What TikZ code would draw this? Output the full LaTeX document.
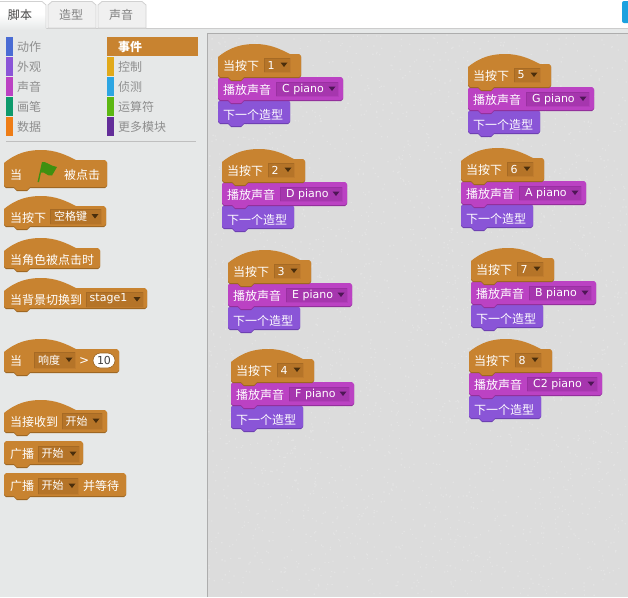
\documentclass[tikz,border=0pt]{standalone}
\usepackage{fontspec}
\setmainfont{Noto Sans CJK SC}
\newfontfamily\latinf{DejaVu Sans}
\usetikzlibrary{calc}
\definecolor{evt}{HTML}{C88330}
\definecolor{evtd}{HTML}{9A6420}
\definecolor{evtin}{HTML}{B57428}
\definecolor{evtdin}{HTML}{A66A24}
\definecolor{evtl}{HTML}{C07C2E}
\definecolor{evttri}{HTML}{4A2E0C}
\definecolor{snd}{HTML}{BB42C3}
\definecolor{sndd}{HTML}{8E2E96}
\definecolor{sndin}{HTML}{A636AE}
\definecolor{snddin}{HTML}{9A30A2}
\definecolor{sndl}{HTML}{B23DBA}
\definecolor{sndtri}{HTML}{4E1656}
\definecolor{lks}{HTML}{8A55D7}
\definecolor{lksd}{HTML}{6A3DAE}
\definecolor{palbg}{HTML}{E6E8E8}
\definecolor{scrbg}{HTML}{DCDCDC}
\definecolor{cattxt}{HTML}{8E8E8E}
\definecolor{bluebar}{HTML}{1BA1DF}
\definecolor{flaggreen}{HTML}{3F9010}
\newcount\tcnt
\tikzset{
  x=1pt,y=-1pt,
  autoname/.code={\global\advance\tcnt by 1 \tikzset{name=t\the\tcnt}},
  blocktxt/.style={autoname,anchor=west,inner sep=0pt,text=white,font=\fontsize{12}{12}\selectfont},
  ddtxt/.style={autoname,anchor=center,inner sep=0pt,text=white,font=\fontsize{11}{11}\selectfont},
  lat/.style={font=\latinf\fontsize{11}{11}\selectfont},
  cat/.style={autoname,anchor=west,inner sep=0pt,text=cattxt,font=\fontsize{12}{12}\selectfont},
  tabtxt/.style={autoname,anchor=center,inner sep=0pt,font=\fontsize{12}{12}\selectfont},
  tabback/.style={fill=black!6,draw=black!18,line width=.8pt},
  rule/.style={draw=black!25,line width=.8pt},
}
% stack block path: #1 x, #2 top, #3 width, #4 height
\newcommand{\stackpath}[4]{
  (#1,#2+2) -- (#1+2,#2) -- (#1+#3-2,#2) -- (#1+#3,#2+2) -- (#1+#3,#2+#4-2) -- (#1+#3-2,#2+#4)
  -- (#1+26,#2+#4) -- (#1+23,#2+#4+3) -- (#1+13,#2+#4+3) -- (#1+10,#2+#4) -- (#1+2,#2+#4) -- (#1,#2+#4-2) -- cycle}
% hat block path: #1 x, #2 top, #3 width, #4 bottom
\newcommand{\hatpath}[4]{
  (#1,#2+13) .. controls (#1+12,#2+3) and (#1+24,#2) .. (#1+37,#2)
  .. controls (#1+52,#2) and (#1+62,#2+5) .. (#1+72,#2+10)
  -- (#1+#3-2,#2+10) -- (#1+#3,#2+12) -- (#1+#3,#4-2) -- (#1+#3-2,#4)
  -- (#1+26,#4) -- (#1+23,#4+3) -- (#1+13,#4+3) -- (#1+10,#4) -- (#1+2,#4) -- (#1,#4-2) -- cycle}
\newcommand{\stackblock}[6]{% x top w h fill dark
  \fill[#6] \stackpath{#1}{#2+1}{#3}{#4};
  \fill[#5] \stackpath{#1}{#2}{#3}{#4};}
\newcommand{\hatblock}[4]{% x top w bottom
  \fill[evtd] \hatpath{#1}{#2+1}{#3}{#4+1};
  \fill[evt] \hatpath{#1}{#2}{#3}{#4};}
% dropdown: x y w h fill dark light triangle
\newcommand{\dropdown}[8]{%
  \fill[#5] (#1,#2) rectangle (#1+#3,#2+#4);
  \draw[#6,line width=.8pt] (#1,#2+#4) -- (#1,#2) -- (#1+#3,#2);
  \draw[#7,line width=.8pt] (#1,#2+#4) -- (#1+#3,#2+#4) -- (#1+#3,#2);
  \fill[#8] (#1+#3-9.5,#2+#4/2-2.5) -- (#1+#3-2.5,#2+#4/2-2.5) -- (#1+#3-6,#2+#4/2+2) -- cycle;
}
\newcommand{\evtdd}[4]{\dropdown{#1}{#2}{#3}{#4}{evtin}{evtdin}{evtl}{evttri}}
% script: x top number sound-name play-width
\newcommand{\script}[5]{%
  \stackblock{#1}{#2+56}{72}{23}{lks}{lksd}
  \stackblock{#1}{#2+33}{#5}{23}{snd}{sndd}
  \hatblock{#1}{#2}{83}{#2+33}
  \node[blocktxt] at (#1+5,#2+21.5) {当按下};
  \evtdd{#1+46}{#2+14}{26}{14}
  \node[ddtxt,lat] at (#1+53,#2+21) {#3};
  \dropdown{#1+58}{#2+38}{#5-63}{14}{sndin}{snddin}{sndl}{sndtri}
  \node[blocktxt] at (#1+5,#2+46) {播放声音};
  \node[ddtxt,anchor=west,lat] at (#1+64,#2+45.5) {#4};
  \node[blocktxt] at (#1+5,#2+71) {下一个造型};
}
\begin{document}
\begin{tikzpicture}
\useasboundingbox (0,0) rectangle (628,597);
\fill[white] (0,0) rectangle (628,597);
% panels
\fill[palbg] (0,29) rectangle (628,597);
\fill[scrbg] (208,34) rectangle (628,597);
\pgfmathsetseed{4711}
\fill[white,opacity=.22] foreach \i in {1,...,2800} {
  (208+rnd*418,34+rnd*561) rectangle +(1.3,1.3)};
\draw[black!32,line width=1pt] (207.5,33) -- (207.5,597);
\draw[black!32,line width=1pt] (207.5,33.5) -- (628,33.5);
\draw[black!20,line width=1pt] (0,28.5) -- (628,28.5);
% tabs
\fill[white] (0,30) -- (0,3) -- (2,1) -- (42,1) -- (46,5) -- (46,30) -- cycle;
\shade[top color=white,bottom color=palbg] (0,14) rectangle (46,30);
\draw[black!18,line width=.8pt] (0,1.5) -- (42,1.5) -- (46,5) -- (46,28);
\path[tabback] (48,28) -- (48,5) -- (52,1.5) -- (92,1.5) -- (96,5) -- (96,28) -- cycle;
\path[tabback] (98,28) -- (98,5) -- (102,1.5) -- (142,1.5) -- (146,5) -- (146,28) -- cycle;
\node[tabtxt,text=black!72] at (20,15) {脚本};
\node[tabtxt,text=black!50] at (71,15) {造型};
\node[tabtxt,text=black!50] at (121,15) {声音};
\fill[bluebar,rounded corners=2pt] (622,1) -- (640,1) -- (640,23) -- (622,23) -- cycle;
% categories
\foreach \yy/\cc/\tt in {37/4A6CD4/动作,57/8A55D7/外观,77/BB42C3/声音,97/0E9A6C/画笔,117/EE7D16/数据}{
  \definecolor{tmpc}{HTML}{\cc}
  \fill[tmpc] (6,\yy) rectangle (13,\yy+19);
  \node[cat] at (17,\yy+10) {\tt};
}
\fill[evt] (107,37) rectangle (198,56);
\node[cat,text=white,font=\bfseries\fontsize{12}{12}\selectfont] at (118,47) {事件};
\foreach \yy/\cc/\tt in {57/E1A91A/控制,77/2CA5E2/侦测,97/5CB712/运算符,117/632D99/更多模块}{
  \definecolor{tmpc}{HTML}{\cc}
  \fill[tmpc] (107,\yy) rectangle (114,\yy+19);
  \node[cat] at (118,\yy+10) {\tt};
}
\draw[rule] (6,141.5) -- (196,141.5);
% palette blocks
\hatblock{4}{150}{103}{187}
\node[blocktxt] at (10,175) {当};
\fill[flaggreen] (37.5,182) -- (42,162) .. controls (46,161) and (50,166) .. (57,167) -- (52,175.5) .. controls (47,177) and (45,171) .. (41,172.5) -- (39,182) -- cycle;
\node[blocktxt] at (64,175) {被点击};
\hatblock{4}{196}{102}{226}
\node[blocktxt] at (10,218) {当按下};
\evtdd{50}{209}{51}{15}
\node[ddtxt] at (70.5,216.5) {空格键};
\hatblock{4}{238}{96}{268}
\node[blocktxt] at (10,259.5) {当角色被点击时};
\hatblock{4}{278}{143}{308}
\node[blocktxt] at (10,300) {当背景切换到};
\evtdd{86}{292}{57}{15}
\node[ddtxt,lat] at (108.5,299) {stage1};
\hatblock{4}{339}{115}{372}
\node[blocktxt] at (10,361) {当};
\evtdd{34}{352}{41}{16}
\node[ddtxt] at (49,360) {响度};
\node[blocktxt,font=\latinf\fontsize{12}{12}\selectfont] at (79,361) {>};
\fill[white,draw=evtd,line width=.6pt,rounded corners=7.5pt] (93,353) rectangle (115,368);
\node[ddtxt,lat,text=black!75] at (104,360.5) {10};
\hatblock{4}{400}{103}{432}
\node[blocktxt] at (10,422) {当接收到};
\evtdd{62}{413}{40}{16}
\node[ddtxt] at (76.5,421) {开始};
\stackblock{4}{441}{79}{23}{evt}{evtd}
\node[blocktxt] at (10,454) {广播};
\evtdd{38}{446}{41}{16}
\node[ddtxt] at (52.5,453) {开始};
\stackblock{4}{473}{122}{23}{evt}{evtd}
\node[blocktxt] at (10,486) {广播};
\evtdd{38}{478}{40}{16}
\node[ddtxt] at (52.5,485) {开始};
\node[blocktxt] at (83,486) {并等待};
% scripts
\script{218}{44}{1}{C piano}{125}
\script{222}{149}{2}{D piano}{125}
\script{228}{250}{3}{E piano}{124}
\script{231}{349}{4}{F piano}{123}
\script{468}{54}{5}{G piano}{126}
\script{461}{148}{6}{A piano}{125}
\script{471}{248}{7}{B piano}{125}
\script{469}{339}{8}{C2 piano}{133}
\end{tikzpicture}
\end{document}
